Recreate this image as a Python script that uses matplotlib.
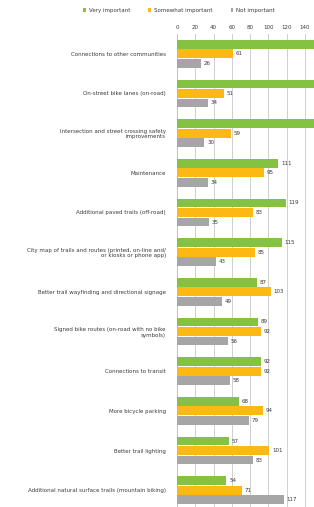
import matplotlib.pyplot as plt
import numpy as np

# survey responses (first three green bars run off the page)
categories = [
    "Connections to other communities",
    "On-street bike lanes (on-road)",
    "Intersection and street crossing safety\nimprovements",
    "Maintenance",
    "Additional paved trails (off-road)",
    "City map of trails and routes (printed, on-line and/\nor kiosks or phone app)",
    "Better trail wayfinding and directional signage",
    "Signed bike routes (on-road with no bike\nsymbols)",
    "Connections to transit",
    "More bicycle parking",
    "Better trail lighting",
    "Additional natural surface trails (mountain biking)",
]
very_important = [160, 158, 156, 111, 119, 115, 87, 89, 92, 68, 57, 54]
somewhat_important = [61, 51, 59, 95, 83, 85, 103, 92, 92, 94, 101, 71]
not_important = [26, 34, 30, 34, 35, 43, 49, 56, 58, 79, 83, 117]
xticks = [0, 20, 40, 60, 80, 100, 120, 140]

green = "#84c341"
orange = "#fdb913"
grey = "#a6a6a6"
txt = "#3a3a3a"
xmax = 150

fig = plt.figure(figsize=(3.14, 5.07), dpi=100)
ax = fig.add_axes([0.564, -0.006, 0.436, 0.939])

y = np.arange(len(categories))
h = 0.22
off = 0.24
series = [(very_important, green, "Very important", -off),
          (somewhat_important, orange, "Somewhat important", 0),
          (not_important, grey, "Not important", off)]
for vals, col, lab, o in series:
    bars = ax.barh(y + o, vals, height=h, color=col, label=lab, zorder=3)
    for b, v in zip(bars, vals):
        # labels of bars that run past the page edge are not visible
        if v + 12 > xmax:
            continue
        ax.text(v + 3, b.get_y() + h / 2, str(v), fontsize=4, color=txt,
                va="center", ha="left", zorder=4)

ax.set_xlim(0, xmax)
ax.set_ylim(len(categories) - 0.5, -0.5)
ax.set_xticks(xticks)
ax.xaxis.tick_top()
ax.tick_params(axis="x", labelsize=4, colors=txt, length=0, pad=3)
ax.set_yticks(y)
ax.set_yticklabels(categories, fontsize=4, color=txt)
ax.tick_params(axis="y", length=0, pad=8)
ax.grid(axis="x", color="#c8c8c8", linewidth=0.6, zorder=0)
for s in ["top", "right", "bottom"]:
    ax.spines[s].set_visible(False)
ax.spines["left"].set_color("#bfbfbf")
ax.spines["left"].set_linewidth(0.6)

fig.legend(loc="upper center", bbox_to_anchor=(0.57, 0.995), ncol=3, fontsize=4,
           frameon=False, handlelength=0.5, handleheight=0.8, columnspacing=3.3,
           handletextpad=0.5, labelcolor=txt)

fig.savefig("out.png", dpi=100)
